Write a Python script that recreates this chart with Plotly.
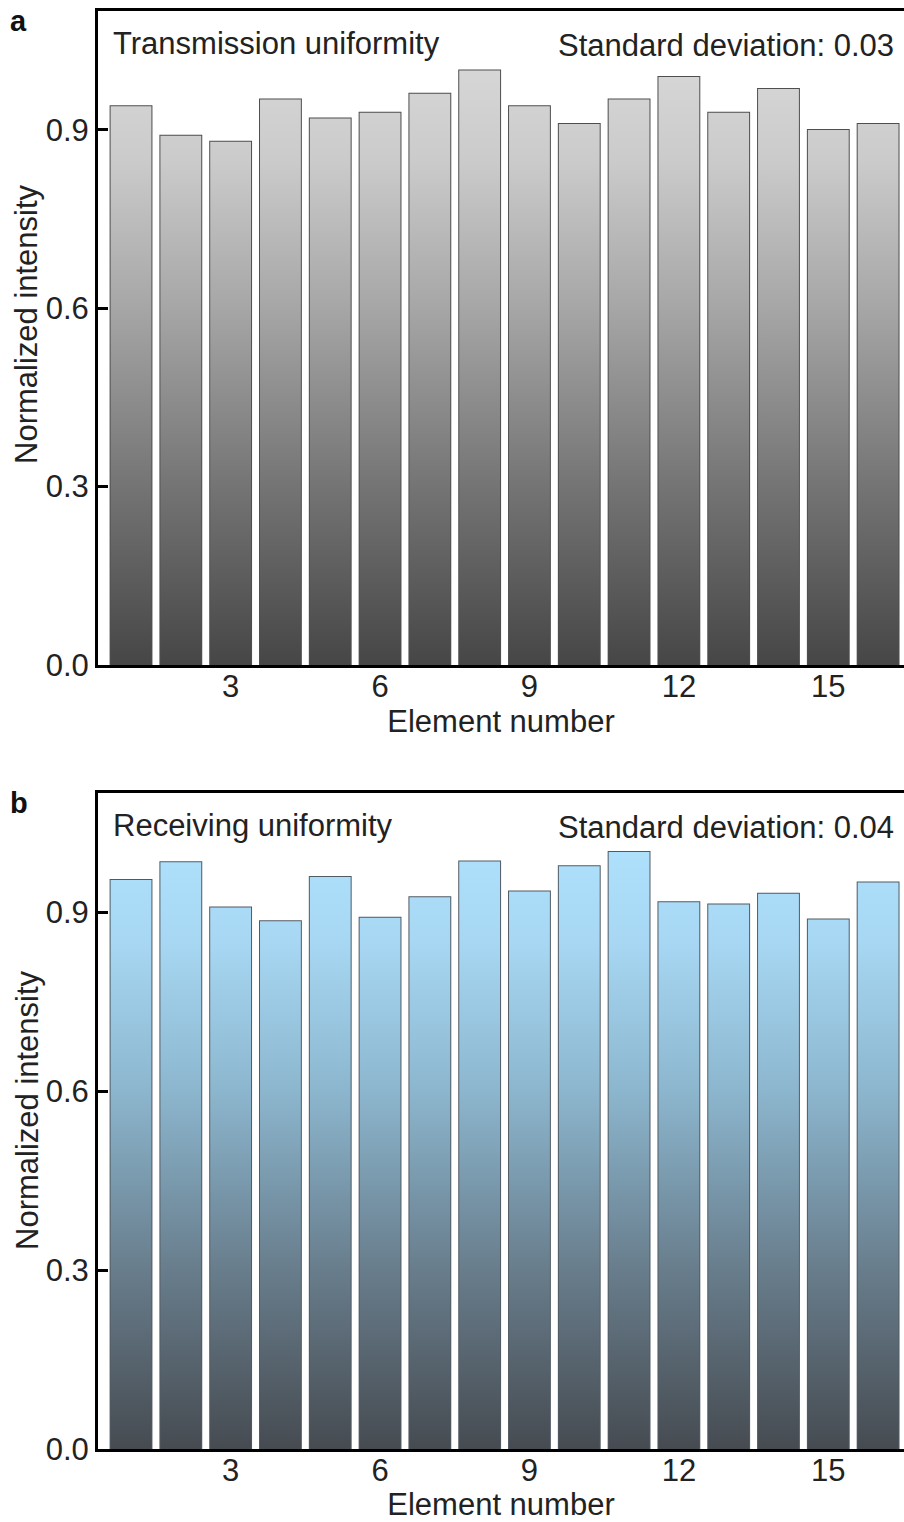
import plotly.graph_objects as go

elements = list(range(1, 17))
transmission = [0.940, 0.890, 0.880, 0.951, 0.919, 0.929, 0.961, 1.000,
                0.940, 0.910, 0.951, 0.989, 0.929, 0.969, 0.900, 0.910]
receiving = [0.954, 0.984, 0.908, 0.885, 0.959, 0.891, 0.925, 0.985,
             0.935, 0.977, 1.001, 0.917, 0.913, 0.931, 0.888, 0.950]
y_ticks = [0.0, 0.3, 0.6, 0.9]
y_tick_text = ["0.0", "0.3", "0.6", "0.9"]
x_ticks = [3, 6, 9, 12, 15]
panel_titles = ["Transmission uniformity", "Receiving uniformity"]
std_texts = ["Standard deviation: 0.03", "Standard deviation: 0.04"]
panel_letters = ["a", "b"]
y_title = "Normalized intensity"
x_title = "Element number"

grad_gray = [[0.0, "#464646"], [0.3, "#747474"], [0.6, "#a6a6a6"], [0.85, "#cbcbcb"], [1.0, "#d6d6d6"]]
grad_blue = [[0.0, "#464b51"], [0.3, "#687d8c"], [0.6, "#8cb6ce"], [0.85, "#a7d7f3"], [1.0, "#aee0fb"]]

FONT = "Liberation Sans, Arial, sans-serif"
FS = 31
BAR_W = 0.82
YMAX = 1.1
XR = [0.337, 16.52]

fig = go.Figure()

panels = [
    (transmission, grad_gray, "#4e4e4e", "x", "y"),
    (receiving, grad_blue, "#505a63", "x2", "y2"),
]

for vals, grad, edge, xa, ya in panels:
    xs, ys = [], []
    for e, v in zip(elements, vals):
        xs += [e - BAR_W / 2, e + BAR_W / 2, e + BAR_W / 2, e - BAR_W / 2, e - BAR_W / 2, None]
        ys += [0, 0, v, v, 0, None]
    fig.add_trace(go.Scatter(
        x=xs, y=ys, mode="none", fill="toself",
        fillgradient=dict(type="vertical", colorscale=grad, start=0, stop=1.0),
        xaxis=xa, yaxis=ya, hoverinfo="skip", showlegend=False,
    ))
    fig.add_trace(go.Bar(
        x=elements, y=vals, width=BAR_W,
        marker=dict(color="rgba(0,0,0,0)", line=dict(color=edge, width=2)),
        xaxis=xa, yaxis=ya, showlegend=False,
    ))

dom_a = [(1449 - 665) / 1438, 1.0]
dom_b = [0.0, (1449 - 793) / 1438]

axis_common_x = dict(
    range=XR, tickvals=x_ticks, ticks="", showline=True, linecolor="black",
    linewidth=3, mirror=True, showgrid=False, zeroline=False, ticklabelstandoff=-8,
    tickfont=dict(family=FONT, size=FS, color="#222"),
    title=dict(text=x_title, font=dict(family=FONT, size=FS, color="#222"), standoff=0),
)
axis_common_y = dict(
    range=[0, YMAX], tickvals=y_ticks, ticktext=y_tick_text, ticks="inside",
    ticklen=10, tickwidth=3, tickcolor="black", showline=True, linecolor="black",
    linewidth=3, showgrid=False, zeroline=False,
    tickfont=dict(family=FONT, size=FS, color="#222"),
)

fig.update_layout(
    width=904, height=1522,
    margin=dict(l=98, r=0, t=11, b=73),
    paper_bgcolor="white", plot_bgcolor="white",
    barmode="overlay",
    xaxis=dict(domain=[0, 1], anchor="y", **axis_common_x),
    yaxis=dict(domain=dom_a, anchor="x", **axis_common_y),
    xaxis2=dict(domain=[0, 1], anchor="y2", **axis_common_x),
    yaxis2=dict(domain=dom_b, anchor="x2", **axis_common_y),
)

letter_y = [1 - 10 / 654, 1 - 10 / 656]
ytitle_y = [(665 - 324) / 654, (1449 - 1110) / 656]
for i, (xa, ya) in enumerate([("x", "y"), ("x2", "y2")]):
    fig.add_annotation(
        text=panel_titles[i], xref=f"{xa} domain", yref=f"{ya} domain",
        x=0.016, y=0.951, xanchor="left", yanchor="middle", showarrow=False,
        font=dict(family=FONT, size=FS, color="#222"),
    )
    fig.add_annotation(
        text=std_texts[i], xref=f"{xa} domain", yref=f"{ya} domain",
        x=0.99, y=0.947, xanchor="right", yanchor="middle", showarrow=False,
        font=dict(family=FONT, size=FS, color="#222"),
    )
    fig.add_annotation(
        text=f"<b>{panel_letters[i]}</b>", xref="paper", yref=f"{ya} domain",
        x=-90 / 806, y=letter_y[i], xanchor="left", yanchor="middle", showarrow=False,
        font=dict(family=FONT, size=FS - 2, color="#111"),
    )
    fig.add_annotation(
        text=y_title, xref="paper", yref=f"{ya} domain", textangle=-90,
        x=(27 - 98) / 806, y=ytitle_y[i], xanchor="center", yanchor="middle", showarrow=False,
        font=dict(family=FONT, size=FS, color="#222"),
    )

fig.write_html("out.html")
